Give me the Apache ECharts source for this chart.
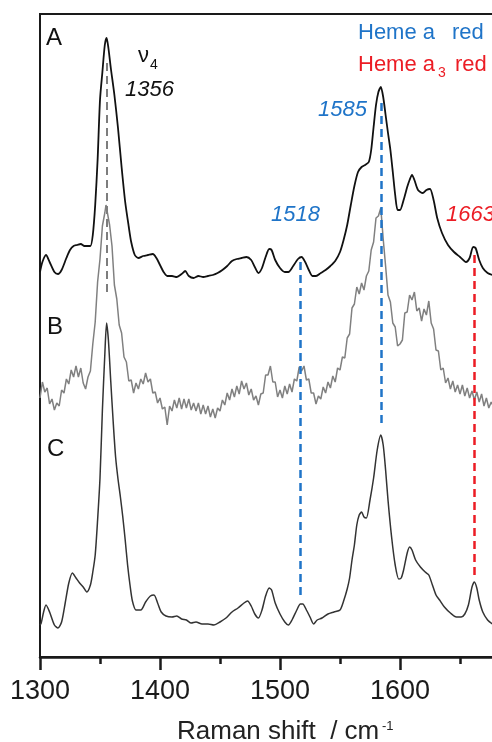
<!DOCTYPE html>
<html>
<head>
<meta charset="utf-8">
<script src="https://cdn.jsdelivr.net/npm/echarts@6/dist/echarts.min.js"></script>
<style>
html,body{margin:0;padding:0;background:#fff;overflow:hidden;width:492px;height:742px;}
#chart{width:522px;height:742px;}
</style>
</head>
<body>
<div id="chart"></div>
<script>
// ---- Data (intensity in arbitrary units) ----
const xTicks = [1300, 1400, 1500, 1600];

const waveA = [1300,1302,1305,1308,1312,1315,1318,1322,1325,1328,1331,1334,1337,1340,1342,1344,1346,1348,1350,1352,1354,1355.5,1357,1359,1362,1365,1368,1371,1374,1376,1379,1382,1386,1390,1394,1397,1400,1403,1406,1410,1414,1418,1421,1424,1428,1432,1436,1440,1444,1448,1452,1456,1460,1464,1468,1472,1476,1479,1482,1485,1488,1491,1493,1496,1500,1504,1507,1511,1515,1518,1521,1524,1527,1530,1534,1538,1542,1546,1550,1553,1556,1559,1562,1565,1568,1571,1574,1576,1578,1580,1582,1584,1586,1588,1590,1592,1594,1596,1598,1600,1603,1606,1608,1610,1612,1615,1619,1622,1625,1628,1631,1635,1640,1645,1650,1655,1658,1661,1663,1666,1669,1673,1677];
const intA  = [385,395,402,395,385,383,387,399,407,411,412,413,411,411,411,422,452,497,557,585,612,619,609,589,562,529,490,455,430,415,402,399,401,402,403,399,392,385,381,381,380,383,386,381,379,381,380,381,382,384,387,391,396,398,399,400,397,390,384,389,400,408,407,397,389,385,385,391,398,400,395,387,381,381,384,387,391,396,405,417,432,452,471,485,490,492,495,507,530,552,565,570,560,542,524,507,485,462,447,447,457,470,477,482,477,467,464,467,468,457,439,424,412,405,400,395,399,410,409,397,389,384,382];

const waveB = [1300,1302,1304,1306,1308,1310,1312,1314,1316,1318,1320,1322,1324,1326,1328,1330,1332,1334,1336,1338,1340,1342,1344,1346,1348,1350,1352,1354,1355,1356,1358,1360,1362,1364,1366,1368,1370,1372,1374,1376,1378,1380,1382,1384,1386,1388,1390,1392,1394,1396,1398,1400,1402,1404,1406,1408,1410,1412,1414,1416,1418,1420,1422,1424,1426,1428,1430,1432,1434,1436,1438,1440,1442,1444,1446,1448,1450,1452,1454,1456,1458,1460,1462,1464,1466,1468,1470,1472,1474,1476,1478,1480,1482,1484,1486,1488,1490,1492,1494,1496,1498,1500,1502,1504,1506,1508,1510,1512,1514,1516,1518,1520,1522,1524,1526,1528,1530,1532,1534,1536,1538,1540,1542,1544,1546,1548,1550,1552,1554,1556,1558,1560,1562,1564,1566,1568,1570,1572,1574,1576,1578,1580,1582,1584,1586,1588,1590,1592,1594,1596,1598,1600,1602,1604,1606,1608,1610,1612,1614,1616,1618,1620,1622,1624,1626,1628,1630,1632,1634,1636,1638,1640,1642,1644,1646,1648,1650,1652,1654,1656,1658,1660,1662,1664,1666,1668,1670,1672,1674,1676,1678];
const intB  = [259,275,265,269,253,258,247,254,251,267,264,278,273,287,280,291,280,289,274,268,280,286,313,335,375,398,431,444,452,453,432,411,372,358,332,324,300,295,276,277,264,274,268,278,273,284,275,278,264,265,254,259,248,250,232,251,246,257,249,259,248,258,249,258,247,254,246,254,243,252,243,251,240,248,239,249,246,257,252,264,257,268,260,271,263,276,268,274,262,268,257,261,252,263,264,282,282,291,275,275,260,267,259,271,263,273,265,278,276,290,286,291,277,278,264,264,253,261,258,270,264,275,269,281,275,289,287,300,299,319,323,349,353,370,363,374,367,381,386,407,415,439,441,449,418,391,362,355,334,330,311,313,317,344,345,362,357,365,346,349,336,348,342,356,334,328,307,306,287,289,274,279,268,276,265,272,263,272,261,269,259,266,257,265,255,263,251,259,249,255,250];

const waveC = [1300,1301,1303,1305,1308,1312,1315,1318,1321,1324,1327,1330,1333,1336,1339,1342,1344,1346,1348,1350,1352,1354,1355.5,1357,1359,1361,1363,1365,1367,1369,1371,1373,1375,1377,1380,1384,1388,1392,1395,1398,1401,1405,1410,1414,1418,1422,1426,1430,1435,1440,1445,1450,1455,1460,1465,1470,1473,1476,1479,1482,1485,1488,1491,1493,1496,1500,1504,1507,1510,1514,1517,1519,1522,1525,1528,1531,1535,1540,1545,1550,1553,1556,1558,1560,1562,1564,1566,1568,1570,1572,1575,1578,1581,1584,1586,1588,1590,1593,1596,1599,1601,1603,1606,1608,1610,1613,1617,1621,1624,1627,1630,1633,1637,1642,1647,1651,1654,1657,1660,1662,1664,1666,1669,1673,1677];
const intC  = [32,34,45,52,45,32,29,35,54,74,84,79,74,70,65,72,85,102,137,179,247,302,334,317,275,235,200,178,160,140,117,92,72,56,47,47,55,61,62,54,45,41,40,41,38,37,34,35,33,33,32,35,39,45,49,54,56,51,43,39,47,61,69,67,54,43,35,32,37,47,53,53,47,40,33,37,39,43,45,47,56,68,79,97,112,132,142,145,140,139,157,179,207,222,212,187,157,120,92,78,79,87,104,110,107,97,90,85,82,72,62,57,50,44,40,40,43,52,70,75,69,57,45,37,33];

// Band marker lines: wavenumber, top and bottom intensity
const markerWave   = [1355.5, 1517, 1584, 1661.5];
const markerTop    = [594, 395, 554, 402];
const markerBottom = [364, 57, 234, 80];

const toPairs = (w, v) => w.map((x, i) => [x, v[i]]);

const FONT = '"Liberation Sans", Arial, sans-serif';
const BLUE = '#1f74c8';
const RED = '#ec1c24';
const markerColors = ['#7d7d7d', BLUE, BLUE, RED];

const chart = echarts.init(document.getElementById('chart'), null, {renderer: 'canvas'});

function txt(text, x, y, size, color, extra) {
  return {
    type: 'text', x: x, y: y, silent: true,
    style: Object.assign({
      text: text, fill: color, fontSize: size, fontFamily: FONT,
      align: 'left', verticalAlign: 'middle'
    }, extra || {})
  };
}

const option = {
  animation: false,
  backgroundColor: '#fff',
  grid: {
    left: 40, top: 14, right: 2, bottom: 85,
    show: true, borderColor: '#1a1a1a', borderWidth: 2, backgroundColor: 'transparent'
  },
  xAxis: {
    type: 'value', min: 1300, max: 1700, interval: 100,
    axisLine: {show: true, lineStyle: {color: '#1a1a1a', width: 2.5}},
    axisTick: {show: true, inside: false, length: 13, lineStyle: {color: '#1a1a1a', width: 2.5}},
    minorTick: {show: true, splitNumber: 2, length: 7, lineStyle: {color: '#1a1a1a', width: 2.5}},
    splitLine: {show: false},
    axisLabel: {
      fontSize: 27, fontFamily: FONT, color: '#1a1a1a', margin: 21,
      showMaxLabel: false,
      formatter: v => (xTicks.indexOf(v) >= 0 ? String(v) : '')
    }
  },
  yAxis: {
    type: 'value', min: 0, max: 643, show: false,
    splitLine: {show: false}
  },
  series: [
    {
      name: 'A', type: 'line', data: toPairs(waveA, intA), showSymbol: false, smooth: 0.25,
      lineStyle: {color: '#111', width: 1.8}, z: 3
    },
    {
      name: 'B', type: 'line', data: toPairs(waveB, intB), showSymbol: false, smooth: false,
      lineStyle: {color: '#808080', width: 1.5}, z: 2
    },
    {
      name: 'C', type: 'line', data: toPairs(waveC, intC), showSymbol: false, smooth: 0.25,
      lineStyle: {color: '#333', width: 1.5}, z: 3
    },
    {
      name: 'markers', type: 'line', data: [], z: 4,
      markLine: {
        silent: true, symbol: ['none', 'none'], animation: false,
        label: {show: false},
        data: markerWave.map((w, i) => [
          {coord: [w, markerTop[i]], lineStyle: {color: markerColors[i], width: i === 0 ? 2 : 2.5, type: [8, 5]}},
          {coord: [w, markerBottom[i]]}
        ])
      }
    }
  ],
  graphic: [
    txt('A', 46, 38, 24, '#111'),
    txt('B', 47, 327, 24, '#111'),
    txt('C', 47, 449, 24, '#111'),
    txt('\u03bd', 138, 56, 22, '#111'),
    txt('4', 150, 65, 14, '#111'),
    txt('1356', 125, 90, 22, '#111', {fontStyle: 'italic'}),
    txt('1585', 318, 110, 22, BLUE, {fontStyle: 'italic'}),
    txt('1518', 271, 215, 22, BLUE, {fontStyle: 'italic'}),
    txt('1663', 446, 215, 22, RED, {fontStyle: 'italic'}),
    txt('Heme a', 358, 33, 22, BLUE),
    txt('red', 452, 33, 22, BLUE),
    txt('Heme a', 358, 65, 22, RED),
    txt('3', 438, 73, 14, RED),
    txt('red', 455, 65, 22, RED),
    txt('Raman shift  / cm', 177, 732, 26, '#222'),
    txt('-1', 382, 726, 13, '#222')
  ]
};
chart.setOption(option);
</script>
</body>
</html>
